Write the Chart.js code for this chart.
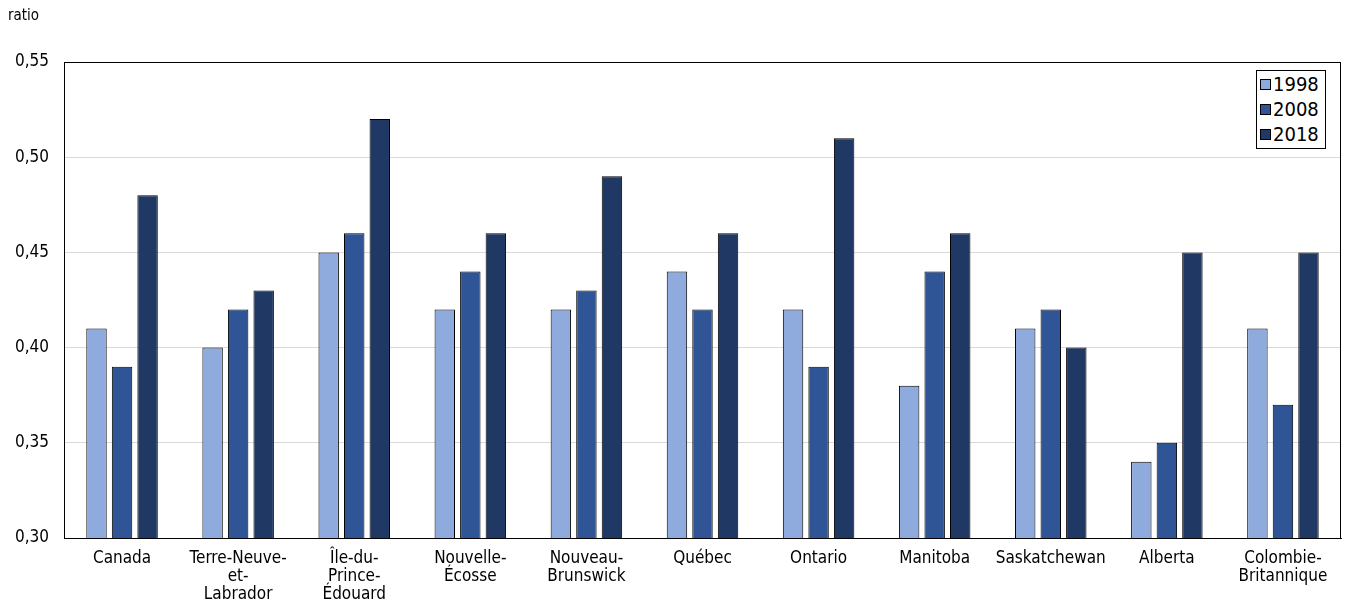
<!DOCTYPE html>
<html>
<head>
<meta charset="utf-8">
<script src="https://cdn.jsdelivr.net/npm/chart.js@4"></script>
<style>
  html, body { margin: 0; padding: 0; background: #fff; }
  #wrap { position: relative; width: 1347px; height: 606px; }
  #legend {
    position: absolute; left: 1256px; top: 70px;
    border: 1px solid #000; background: #fff;
    padding: 1px 6px 1px 3px;
    font: 20px 'DejaVu Sans Condensed', sans-serif;
    line-height: 25px; color: #000;
  }
  #legend .sw {
    display: inline-block; width: 9px; height: 9px;
    border: 1px solid #000; margin-right: 2px; vertical-align: 1px;
  }
</style>
</head>
<body>
<div id="wrap">
  <canvas id="chart" width="1347" height="606"></canvas>
  <div id="legend"></div>
</div>
<script>
const provinces = [
  'Canada',
  ['Terre-Neuve-', 'et-', 'Labrador'],
  ['Île-du-', 'Prince-', 'Édouard'],
  ['Nouvelle-', 'Écosse'],
  ['Nouveau-', 'Brunswick'],
  'Québec',
  'Ontario',
  'Manitoba',
  'Saskatchewan',
  'Alberta',
  ['Colombie-', 'Britannique']
];
const years = ['1998', '2008', '2018'];
const ratio1998 = [0.41, 0.40, 0.45, 0.42, 0.42, 0.44, 0.42, 0.38, 0.41, 0.34, 0.41];
const ratio2008 = [0.39, 0.42, 0.46, 0.44, 0.43, 0.42, 0.39, 0.44, 0.42, 0.35, 0.37];
const ratio2018 = [0.48, 0.43, 0.52, 0.46, 0.49, 0.46, 0.51, 0.46, 0.40, 0.45, 0.45];
const yTicks = [0.30, 0.35, 0.40, 0.45, 0.50, 0.55];

const colors = ['#8faadc', '#2f5597', '#1f3864'];
const series = [ratio1998, ratio2008, ratio2018];
const fontFamily = "'DejaVu Sans Condensed', sans-serif";

const frame = {
  id: 'frame',
  afterDraw(chart) {
    const { ctx, chartArea: a } = chart;
    ctx.save();
    ctx.strokeStyle = '#000';
    ctx.lineWidth = 1;
    ctx.strokeRect(a.left + 0.5, a.top + 0.5, a.right - a.left - 1, a.bottom - a.top);
    ctx.fillStyle = '#000';
    ctx.font = '15px ' + fontFamily;
    ctx.textBaseline = 'top';
    ctx.fillText('ratio', 8, 9);
    ctx.restore();
  }
};

new Chart(document.getElementById('chart'), {
  type: 'bar',
  data: {
    labels: provinces,
    datasets: years.map((y, i) => ({
      label: y,
      data: series[i],
      backgroundColor: colors[i],
      borderColor: '#000',
      borderWidth: 1,
      borderSkipped: false,
      barPercentage: 0.8,
      categoryPercentage: 0.66
    }))
  },
  options: {
    responsive: false,
    animation: false,
    layout: { padding: { top: 62, right: 6, bottom: 0, left: 0 } },
    plugins: { legend: { display: false }, tooltip: { enabled: false } },
    scales: {
      x: {
        afterFit(s) { s.height = 68; },
        grid: { display: false },
        border: { color: '#000' },
        ticks: {
          color: '#000', maxRotation: 0, autoSkip: false, padding: 4,
          font: { family: fontFamily, size: 17, lineHeight: 1.06 }
        }
      },
      y: {
        min: 0.30, max: 0.55,
        afterFit(s) { s.width = 64; },
        afterBuildTicks(s) { s.ticks = yTicks.map(v => ({ value: v })); },
        grid: { color: '#d9d9d9', drawTicks: false },
        border: { color: '#000' },
        ticks: {
          color: '#000', padding: 15,
          font: { family: fontFamily, size: 17 },
          callback: v => v.toFixed(2).replace('.', ',')
        }
      }
    }
  },
  plugins: [frame]
});

document.getElementById('legend').innerHTML = years.map((y, i) =>
  '<div><span class="sw" style="background:' + colors[i] + '"></span>' + y + '</div>'
).join('');
</script>
</body>
</html>
